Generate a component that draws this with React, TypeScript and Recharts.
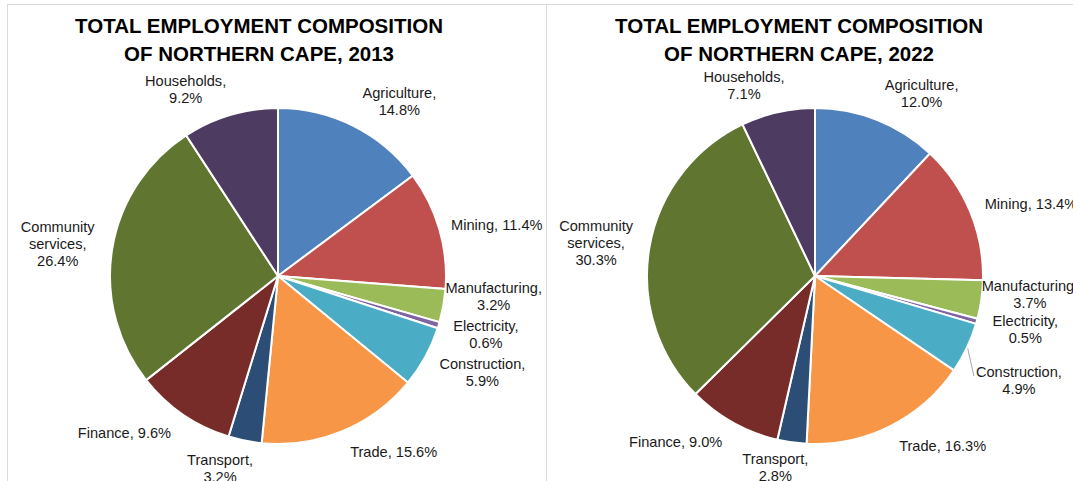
import { PieChart, Pie, Cell } from "recharts";

const sectors = [
  "Agriculture",
  "Mining",
  "Manufacturing",
  "Electricity",
  "Construction",
  "Trade",
  "Transport",
  "Finance",
  "Community services",
  "Households",
];
const share2013 = [14.8, 11.4, 3.2, 0.6, 5.9, 15.6, 3.2, 9.6, 26.4, 9.2];
const share2022 = [12.0, 13.4, 3.7, 0.5, 4.9, 16.3, 2.8, 9.0, 30.3, 7.1];
const singleLine = ["Mining", "Trade", "Finance"];

const colors = [
  "#4F81BD",
  "#C0504D",
  "#9BBB59",
  "#8064A2",
  "#4BACC6",
  "#F79646",
  "#2C4D75",
  "#772C2A",
  "#5F7530",
  "#4D3B62",
];

// label tweaks (Excel "best fit" placement), relative to a point 40px outside the rim
const nudge2013 = [
  [28, 11], [19, 7], [11, -16], [9, -2], [22, -4],
  [36, -16], [-17, -11], [-36, -15], [-15, 2], [-33, 13],
];
const nudge2022 = [
  [30, 11], [24, 8], [9, -11], [10, -3], [16, 15],
  [35, -16], [-11, -15], [-38, -16], [-14, 3], [-25, 12],
];

const RAD = Math.PI / 180;
const FONT = "'Liberation Sans', Arial, sans-serif";
const NO_MARGIN = { top: 0, right: 0, bottom: 0, left: 0 };

const toRows = (vals: number[]) => sectors.map((name, i) => ({ name, value: vals[i] }));

function labelLines(name: string, value: number) {
  const pct = `${value.toFixed(1)}%`;
  if (singleLine.includes(name)) return [`${name}, ${pct}`];
  const words = name.split(" ");
  words[words.length - 1] += ",";
  return [...words, pct];
}

function makeLabel(nudges: number[][], leader: number) {
  return (props: any) => {
    const { cx, cy, midAngle, outerRadius, index } = props;
    const name = props.name ?? props.payload?.name;
    const value = props.value ?? props.payload?.value;
    const r = outerRadius + 40;
    const x = cx + r * Math.cos(-midAngle * RAD) + nudges[index][0];
    const y = cy + r * Math.sin(-midAngle * RAD) + nudges[index][1];
    const lines = labelLines(name, value);
    const top = y - ((lines.length - 1) * 17) / 2;
    return (
      <g key={`lbl-${index}`}>
        {index === leader && (
          <line
            x1={cx + (outerRadius + 1) * Math.cos(-midAngle * RAD)}
            y1={cy + (outerRadius + 1) * Math.sin(-midAngle * RAD)}
            x2={x - 45}
            y2={y - 4}
            stroke="#a6a6a6"
            strokeWidth={1}
          />
        )}
        <text
          textAnchor="middle"
          fontFamily={FONT}
          fontSize={14.6}
          fill="#1a1a1a"
        >
          {lines.map((t, i) => (
            <tspan key={i} x={x} y={top + i * 17} dominantBaseline="central">
              {t}
            </tspan>
          ))}
        </text>
      </g>
    );
  };
}

function Title({ year, center }: { year: string; center: number }) {
  return (
    <div
      style={{
        position: "absolute",
        left: center - 250,
        top: 12,
        width: 500,
        textAlign: "center",
        fontFamily: FONT,
        fontWeight: "bold",
        fontSize: 20.5,
        lineHeight: "28px",
        color: "#000",
      }}
    >
      TOTAL EMPLOYMENT COMPOSITION
      <br />
      OF NORTHERN CAPE, {year}
    </div>
  );
}

function EmploymentPie({ vals, nudges, leader, cx }: {
  vals: number[];
  nudges: number[][];
  leader: number;
  cx: number;
}) {
  return (
    <Pie
      data={toRows(vals)}
      dataKey="value"
      nameKey="name"
      cx={cx}
      cy={276}
      outerRadius={168}
      startAngle={90}
      endAngle={-270}
      stroke="#ffffff"
      strokeWidth={2}
      label={makeLabel(nudges, leader)}
      labelLine={false}
      isAnimationActive={false}
    >
      {vals.map((_, i) => (
        <Cell key={sectors[i]} fill={colors[i]} />
      ))}
    </Pie>
  );
}

export default function App() {
  return (
    <div
      style={{
        position: "absolute",
        left: 0,
        top: 0,
        width: 1073,
        height: 481,
        overflow: "hidden",
        background: "#fff",
      }}
    >
      <div
        style={{
          position: "absolute",
          left: 7,
          top: 4,
          width: 540,
          height: 500,
          border: "1px solid #d9d9d9",
          boxSizing: "border-box",
        }}
      />
      <div
        style={{ position: "absolute", left: 546, top: 4, width: 600, height: 1, background: "#d9d9d9" }}
      />
      <div style={{ position: "absolute", left: 0, top: 0 }}>
        <PieChart width={546} height={481} margin={NO_MARGIN}>
          {EmploymentPie({ vals: share2013, nudges: nudge2013, leader: -1, cx: 278 })}
        </PieChart>
      </div>
      <div style={{ position: "absolute", left: 546, top: 0 }}>
        <PieChart width={527} height={481} margin={NO_MARGIN}>
          {EmploymentPie({ vals: share2022, nudges: nudge2022, leader: 4, cx: 269 })}
        </PieChart>
      </div>
      <Title year="2013" center={259} />
      <Title year="2022" center={799} />
    </div>
  );
}
